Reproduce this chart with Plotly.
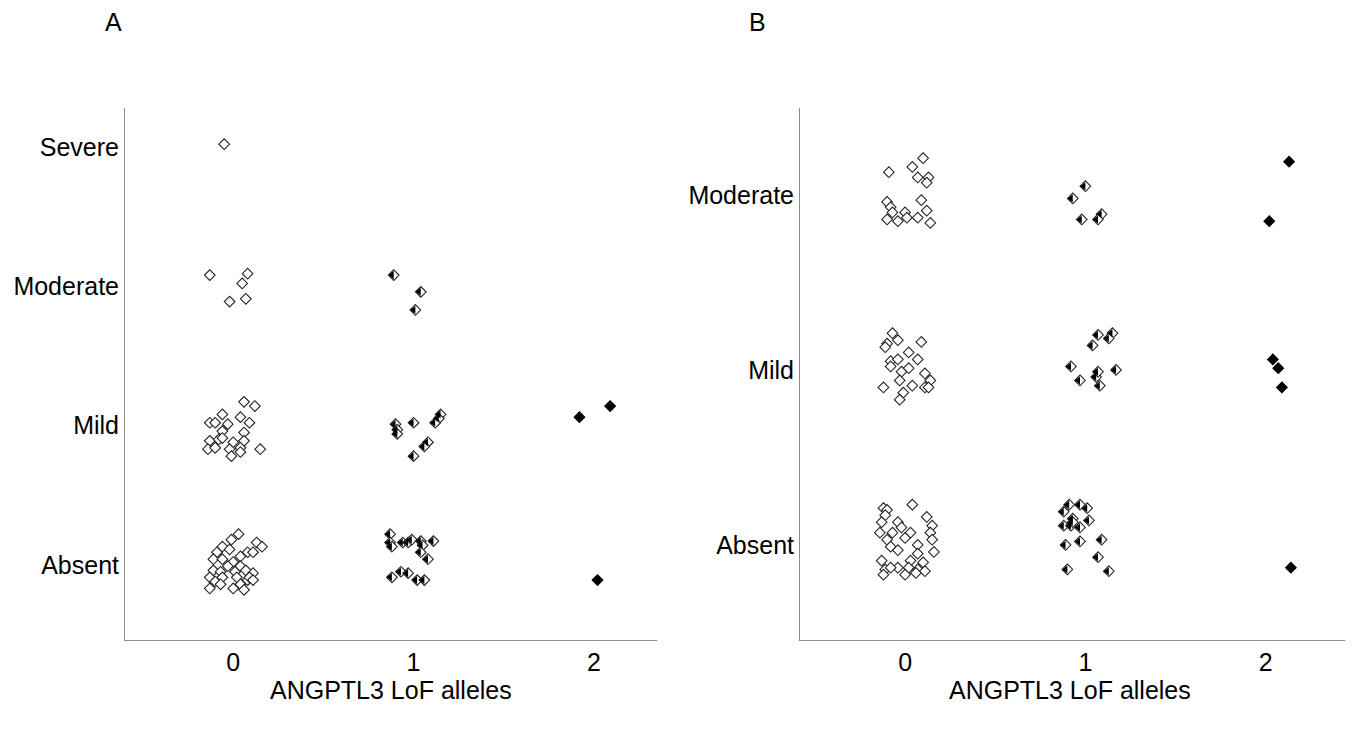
import plotly.graph_objects as go

# ---------------- data ----------------
levels_A = ["Absent", "Mild", "Moderate", "Severe"]
levels_B = ["Absent", "Mild", "Moderate"]
allele_ticks = [0, 1, 2]

# Panel A, 0 LoF alleles  (level index, jitter x, jitter y)
A0_level = [3] + [2]*5 + [1]*22 + [0]*32
A0_jx = [-0.05,
         -0.13, 0.08, 0.05, -0.02, 0.07,
         0.06, 0.12, -0.06, 0.04, -0.13, -0.10, -0.03, 0.09, -0.06, 0.06, -0.13,
         -0.08, -0.06, 0.00, 0.06, -0.14, -0.10, -0.02, 0.04, -0.01, 0.04, 0.15,
         0.03, -0.01, 0.13, 0.16, -0.06, -0.02, -0.09, 0.08, 0.11, 0.04, -0.11,
         -0.06, 0.00, -0.03, 0.04, -0.11, -0.07, 0.01, 0.07, 0.11, -0.13, -0.06,
         0.02, 0.08, 0.09, -0.10, 0.04, 0.11, -0.13, 0.00, 0.06, -0.07]
A0_jy = [0.02,
         0.08, 0.09, 0.02, -0.11, -0.09,
         0.17, 0.14, 0.08, 0.06, 0.02, 0.02, 0.01, 0.02, -0.04, -0.05, -0.11,
         -0.10, -0.09, -0.12, -0.11, -0.17, -0.16, -0.17, -0.16, -0.22, -0.19, -0.17,
         0.22, 0.18, 0.16, 0.13, 0.13, 0.11, 0.09, 0.09, 0.09, 0.06, 0.04,
         0.04, 0.02, -0.01, -0.01, -0.04, -0.05, -0.05, -0.04, -0.06, -0.09, -0.09,
         -0.09, -0.11, -0.09, -0.12, -0.14, -0.11, -0.17, -0.17, -0.18, -0.14]

# Panel A, 1 LoF allele
A1_level = [2]*3 + [1]*10 + [0]*16
A1_jx = [-0.11, 0.04, 0.01,
         0.15, 0.14, -0.10, 0.00, -0.09, 0.12, -0.09, 0.08, 0.06, 0.00,
         -0.13, -0.13, -0.12, -0.06, -0.03, -0.01, 0.04, 0.05, 0.11, 0.04, 0.08,
         -0.12, -0.07, -0.03, 0.02, 0.06]
A1_jy = [0.08, -0.04, -0.17,
         0.08, 0.05, 0.01, 0.02, -0.03, 0.02, -0.06, -0.12, -0.15, -0.22,
         0.22, 0.16, 0.13, 0.16, 0.16, 0.18, 0.17, 0.14, 0.17, 0.09, 0.04,
         -0.09, -0.05, -0.06, -0.11, -0.11]

# Panel A, 2 LoF alleles
A2_level = [1, 1, 0]
A2_jx = [-0.08, 0.09, 0.02]
A2_jy = [0.06, 0.14, -0.11]

# Panel B, 0 LoF alleles
B0_level = [2]*17 + [1]*21 + [0]*33
B0_jx = [0.10, 0.04, -0.09, 0.13, 0.07, 0.12, -0.10, 0.09, -0.08, 0.12, 0.00,
         -0.10, -0.04, 0.01, 0.07, 0.14, -0.07,
         -0.07, -0.10, -0.04, 0.09, -0.11, 0.02, -0.08, -0.04, 0.07, -0.08, -0.02,
         0.02, 0.11, -0.03, 0.14, -0.12, 0.04, 0.11, -0.01, -0.03, 0.13,
         0.04, -0.12, -0.10, -0.11, 0.12, -0.13, -0.04, 0.15, -0.02, 0.03, -0.14,
         -0.07, 0.14, -0.10, 0.00, 0.15, 0.07, -0.08, 0.16, -0.04, 0.07, 0.03,
         0.10, -0.13, -0.11, -0.04, 0.02, 0.07, -0.12, 0.00, 0.06, 0.11, -0.08]
B0_jy = [0.21, 0.16, 0.13, 0.10, 0.10, 0.07, -0.04, -0.03, -0.07, -0.09, -0.10,
         -0.14, -0.15, -0.13, -0.13, -0.16, -0.10,
         0.21, 0.15, 0.17, 0.16, 0.13, 0.10, 0.05, 0.06, 0.06, 0.02, -0.01,
         0.01, -0.02, -0.06, -0.06, -0.10, -0.09, -0.10, -0.13, -0.17, -0.10,
         0.23, 0.21, 0.20, 0.17, 0.16, 0.13, 0.13, 0.11, 0.10, 0.07, 0.07,
         0.07, 0.07, 0.03, 0.04, 0.03, 0.00, -0.01, -0.04, -0.03, -0.05, -0.09,
         -0.10, -0.09, -0.14, -0.13, -0.13, -0.14, -0.17, -0.17, -0.16, -0.15, -0.13]

# Panel B, 1 LoF allele
B1_level = [2]*5 + [1]*10 + [0]*16
B1_jx = [0.00, -0.07, 0.09, -0.02, 0.07,
         0.07, 0.15, 0.13, 0.04, -0.08, -0.03, 0.06, 0.07, 0.17, 0.08,
         -0.12, -0.09, -0.03, 0.01, -0.07, -0.12, -0.08, -0.03, -0.11, -0.03, 0.09,
         0.07, -0.10, 0.13, -0.07, 0.02]
B1_jy = [0.05, -0.02, -0.11, -0.14, -0.14,
         0.20, 0.21, 0.18, 0.14, 0.02, -0.06, -0.04, -0.01, 0.00, -0.09,
         0.19, 0.23, 0.23, 0.21, 0.15, 0.11, 0.11, 0.10, 0.00, 0.02, 0.03,
         -0.07, -0.14, -0.15, 0.13, 0.14]

# Panel B, 2 LoF alleles
B2_level = [2, 2, 1, 1, 1, 0]
B2_jx = [0.13, 0.02, 0.04, 0.07, 0.09, 0.14]
B2_jy = [0.19, -0.15, 0.06, 0.01, -0.10, -0.13]

# ---------------- figure ----------------
fig = go.Figure()
S = 8.2            # diamond marker size
TS = 7.0           # half-fill triangle size
LW = 1.1


def pts(allele, level, jx, jy):
    return [allele + a for a in jx], [l + b for l, b in zip(level, jy)]


def add_panel(xa, ya, groups):
    for allele, level, jx, jy in groups:
        x, y = pts(allele, level, jx, jy)
        if allele == 2:
            fig.add_trace(go.Scatter(x=x, y=y, mode="markers", xaxis=xa, yaxis=ya,
                                     marker=dict(symbol="diamond", size=S, color="black",
                                                 line=dict(color="black", width=LW))))
        else:
            fig.add_trace(go.Scatter(x=x, y=y, mode="markers", xaxis=xa, yaxis=ya,
                                     marker=dict(symbol="diamond", size=S, color="white",
                                                 line=dict(color="#222", width=LW))))
            if allele == 1:
                fig.add_trace(go.Scatter(x=x, y=y, mode="markers", xaxis=xa, yaxis=ya,
                                         marker=dict(symbol="triangle-down", size=TS,
                                                     color="black", angle=90,
                                                     standoff=TS / 4,
                                                     line=dict(width=0))))


add_panel("x", "y", [(0, A0_level, A0_jx, A0_jy), (1, A1_level, A1_jx, A1_jy),
                     (2, A2_level, A2_jx, A2_jy)])
add_panel("x2", "y2", [(0, B0_level, B0_jx, B0_jy), (1, B1_level, B1_jx, B1_jy),
                       (2, B2_level, B2_jx, B2_jy)])

# page body has an 8px margin: figure starts at (8, 8)
OFF = 8
W, H = 1355 - OFF, 733 - OFF


def px(x):
    return (x - OFF) / W


def py(y):
    return 1 - (y - OFF) / H


font = dict(family="Liberation Sans, Arial, sans-serif", size=25, color="#000")
ydom = [py(640), py(108)]
axis_common = dict(showline=True, linecolor="#8c8c8c", linewidth=1, showgrid=False,
                   zeroline=False, ticks="", tickfont=font, fixedrange=True)

fig.update_layout(
    width=W, height=H, showlegend=False,
    paper_bgcolor="white", plot_bgcolor="white",
    margin=dict(l=0, r=0, t=0, b=0),
    xaxis=dict(domain=[px(125), px(657)], range=[-0.6, 2.35], anchor="y",
               tickvals=allele_ticks, ticktext=[str(v) for v in allele_ticks],
               **axis_common),
    yaxis=dict(domain=ydom, range=[-0.54, 3.28], anchor="x",
               tickvals=list(range(len(levels_A))), ticktext=levels_A, **axis_common),
    xaxis2=dict(domain=[px(800), px(1345)], range=[-0.583, 2.44], anchor="y2",
                tickvals=allele_ticks, ticktext=[str(v) for v in allele_ticks],
                **axis_common),
    yaxis2=dict(domain=ydom, range=[-0.543, 2.497], anchor="x2",
                tickvals=list(range(len(levels_B))), ticktext=levels_B, **axis_common),
    annotations=[
        dict(text="A", x=px(113), y=py(22), xref="paper", yref="paper",
             xanchor="center", yanchor="middle", showarrow=False, font=font),
        dict(text="B", x=px(757), y=py(22), xref="paper", yref="paper",
             xanchor="center", yanchor="middle", showarrow=False, font=font),
        dict(text="ANGPTL3 LoF alleles", x=px(391), y=py(690), xref="paper",
             yref="paper", xanchor="center", yanchor="middle", showarrow=False, font=font),
        dict(text="ANGPTL3 LoF alleles", x=px(1070), y=py(690), xref="paper",
             yref="paper", xanchor="center", yanchor="middle", showarrow=False, font=font),
    ],
)

fig.write_html("out.html")
